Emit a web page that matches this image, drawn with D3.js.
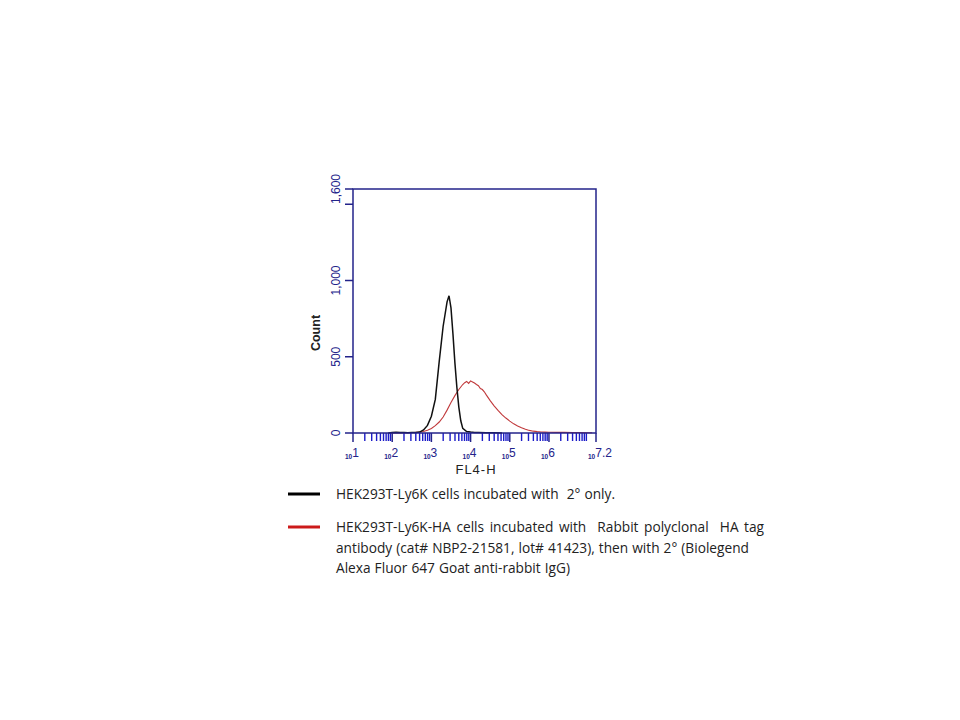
<!DOCTYPE html>
<html><head><meta charset="utf-8">
<script src="https://cdn.jsdelivr.net/npm/d3@7/dist/d3.min.js"></script>
<style>body{margin:0;background:#fff}svg{display:block}text{white-space:pre}</style>
</head><body>
<svg id="c" width="960" height="720"></svg>
<script>
// log10(FL4-H) bin positions and counts
const blackLog   = [1.9,2.0,2.1,2.2,2.3,2.4,2.5,2.6,2.7,2.8,2.9,3.0,3.1,3.2,3.3,3.4,3.45,3.5,3.55,3.6,3.65,3.7,3.75,3.8,3.9,4.0,4.1,4.2,4.4,4.6,4.8];
const blackCount = [0,3,5,4,3,2,3,4,6,20,50,110,220,470,700,860,900,820,650,460,300,170,80,30,10,6,4,3,2,1,0];
const redLog   = [2.0,2.1,2.2,2.3,2.4,2.5,2.6,2.7,2.8,2.9,3.0,3.1,3.2,3.3,3.4,3.5,3.6,3.7,3.8,3.85,3.9,3.95,4.0,4.05,4.1,4.15,4.2,4.25,4.3,4.35,4.4,4.5,4.6,4.7,4.8,4.9,5.0,5.1,5.2,5.3,5.4,5.5,5.6,5.7,5.8,5.9,6.0,6.2,6.4,6.6,6.8,7.0,7.1];
const redCount = [1,2,1,2,2,3,4,6,10,18,30,48,72,105,150,200,245,285,318,330,338,325,342,335,328,318,310,292,285,270,250,212,178,148,120,98,78,60,46,34,24,17,12,9,7,6,5,4,4,3,3,2,2];
const yTicks = [0,500,1000,1500,1600];
const yLabels = {0:"0",500:"500",1000:"1,000",1600:"1,600"};
const xMajor = [1,2,3,4,5,6,7.2];
const xMajorLabels = ["1","2","3","4","5","6","7.2"];
const xTitle = "FL4-H";
const yTitle = "Count";
const legendItems = [
  {color:"#000000", lines:["HEK293T-Ly6K cells incubated with  2° only."]},
  {color:"#cc1a1a", lines:["HEK293T-Ly6K-HA cells incubated with  Rabbit polyclonal  HA tag",
                           "antibody (cat# NBP2-21581, lot# 41423), then with 2° (Biolegend",
                           "Alexa Fluor 647 Goat anti-rabbit IgG)"]}
];

const svg = d3.select("#c");
const L=353, R=596, T=189, B=433;
const x = d3.scaleLinear().domain([1,7.2]).range([L,R]);
const y = d3.scaleLinear().domain([0,1600]).range([B,T]);
const navy = "#23238a", tickBlue="#1c1cc8";

// minor log ticks
const minor=[];
for(let d=1; d<7.2; d++){ for(let m=2;m<=9;m++){ const v=d+Math.log10(m); if(v<7.2) minor.push(v);} }
svg.append("g").selectAll("line").data(minor).join("line")
  .attr("x1",d=>x(d)).attr("x2",d=>x(d)).attr("y1",B).attr("y2",B+8)
  .attr("stroke",tickBlue).attr("stroke-width",1.4);
svg.append("g").selectAll("line").data(xMajor).join("line")
  .attr("x1",d=>x(d)).attr("x2",d=>x(d)).attr("y1",B).attr("y2",B+9)
  .attr("stroke",navy).attr("stroke-width",1.5);

// curves
const line = d3.line().x(d=>x(d[0])).y(d=>y(d[1])).curve(d3.curveLinear);
svg.append("path").attr("d",line(redLog.map((v,i)=>[v,redCount[i]])))
  .attr("fill","none").attr("stroke","#c0393b").attr("stroke-width",1.1);
svg.append("path").attr("d",line(blackLog.map((v,i)=>[v,blackCount[i]])))
  .attr("fill","none").attr("stroke","#111").attr("stroke-width",1.5);

// box
svg.append("rect").attr("x",L).attr("y",T).attr("width",R-L).attr("height",B-T)
  .attr("fill","none").attr("stroke",navy).attr("stroke-width",1.5);

// y ticks
svg.append("g").selectAll("line").data(yTicks).join("line")
  .attr("x1",L-8).attr("x2",L).attr("y1",d=>y(d)).attr("y2",d=>y(d))
  .attr("stroke",navy).attr("stroke-width",1.5);
svg.append("g").selectAll("text").data(yTicks.filter(d=>yLabels[d]!==undefined)).join("text")
  .attr("transform",d=>`translate(340,${y(d)}) rotate(-90)`)
  .attr("text-anchor","middle").attr("font-family","Liberation Sans, Arial, sans-serif")
  .attr("font-size",12).attr("fill",navy).text(d=>yLabels[d]);
svg.append("text").attr("transform",`translate(320,333) rotate(-90)`)
  .attr("text-anchor","middle").attr("font-family","Liberation Sans, Arial, sans-serif")
  .attr("font-size",12.5).attr("font-weight","bold").attr("fill","#222").text(yTitle);

// x labels
const xl = svg.append("g").selectAll("text").data(xMajor).join("text")
  .attr("x",d=>x(d)-8).attr("y",459)
  .attr("font-family","Liberation Sans, Arial, sans-serif").attr("fill",navy);
xl.append("tspan").attr("font-size",6.5).attr("font-weight","bold").text("10");
xl.append("tspan").attr("font-size",12).attr("dy",-2).text((d,i)=>xMajorLabels[i]);
svg.append("text").attr("x",476).attr("y",474).attr("text-anchor","middle")
  .attr("font-family","Liberation Sans, Arial, sans-serif").attr("font-size",13)
  .attr("letter-spacing",1).attr("fill","#222").text(xTitle);

// legend
const lg = [{y:494},{y:527}];
legendItems.forEach((it,i)=>{
  svg.append("line").attr("x1",288).attr("x2",320).attr("y1",lg[i].y).attr("y2",lg[i].y)
    .attr("stroke",it.color).attr("stroke-width",3);
  it.lines.forEach((t,j)=>{
    svg.append("text").attr("x",336).attr("y",lg[i].y+5+j*20.5)
      .attr("font-family","Open Sans, sans-serif").attr("font-size",13.7)
      .attr("word-spacing",i===1 && j===0 ? 2 : 0.5)
      .attr("fill","#222").text(t);
  });
});
</script>
</body></html>
